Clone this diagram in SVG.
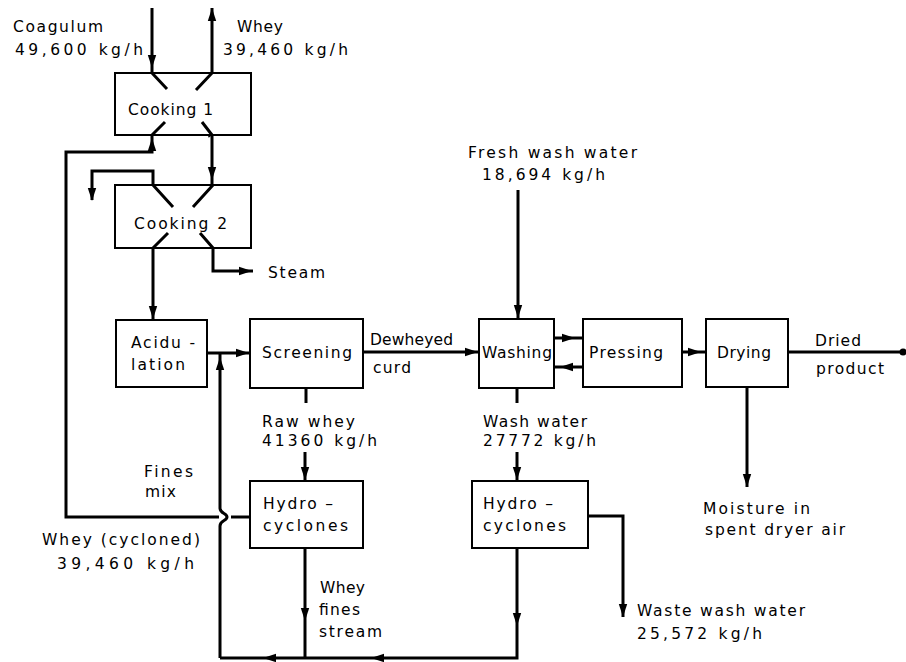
<svg xmlns="http://www.w3.org/2000/svg" xmlns:xlink="http://www.w3.org/1999/xlink" width="906" height="662" viewBox="0 0 906 662">
<style>
.box{fill:#fff;stroke:#000;stroke-width:2}
.ln{fill:none;stroke:#000;stroke-width:3;stroke-linejoin:miter}
.t{font-family:"DejaVu Sans","Liberation Sans",sans-serif;font-size:15.5px;fill:#000}
</style>
<defs>
<path id="ah" d="M0,0 L-13,-4.2 L-13,4.2 Z" fill="#000"/>
</defs>
<rect width="906" height="662" fill="#fff"/>
<g id="connectors">
<path class="ln" d="M152,8 V73 L167,89"/>
<path class="ln" d="M196,90 L212,73 V8"/>
<path class="ln" d="M219,517 H66 V152 H152 V135 L165,122"/>
<path class="ln" d="M250,517 H231"/>
<path class="ln" d="M202,122 L212,135 V185 L193,207"/>
<path class="ln" d="M173,207 L153,185 V171 H92 V200"/>
<path class="ln" d="M168,233 L153,248 V320"/>
<path class="ln" d="M200,233 L213,248 V271 H253"/>
<path class="ln" d="M207,353 H250"/>
<path class="ln" d="M220,658 V526 C220,520 227,521 227,517 C227,513 220,514 220,508 V353"/>
<path class="ln" d="M363,352 H479"/>
<path class="ln" d="M518,190 V319"/>
<path class="ln" d="M554,338 H583"/>
<path class="ln" d="M583,367 H554"/>
<path class="ln" d="M682,352 H706"/>
<path class="ln" d="M788,352 H903"/>
<circle cx="903" cy="352" r="3.5" fill="#000"/>
<path class="ln" d="M747,387 V487"/>
<path class="ln" d="M306,388 V403"/>
<path class="ln" d="M305,452 V481"/>
<path class="ln" d="M517,388 V403"/>
<path class="ln" d="M517,452 V481"/>
<path class="ln" d="M588,516 H623 V617"/>
<path class="ln" d="M517,548 V658 H220"/>
<path class="ln" d="M305,548 V658"/>
<use xlink:href="#ah" transform="translate(152,68) rotate(90)"/>
<use xlink:href="#ah" transform="translate(212,8) rotate(-90)"/>
<use xlink:href="#ah" transform="translate(209,76) rotate(-47)"/>
<use xlink:href="#ah" transform="translate(152,138) rotate(-90)"/>
<use xlink:href="#ah" transform="translate(204,125) rotate(-128)"/>
<use xlink:href="#ah" transform="translate(212,180) rotate(90)"/>
<use xlink:href="#ah" transform="translate(92,201) rotate(90)"/>
<use xlink:href="#ah" transform="translate(153,319) rotate(90)"/>
<use xlink:href="#ah" transform="translate(252,271)"/>
<use xlink:href="#ah" transform="translate(249,353)"/>
<use xlink:href="#ah" transform="translate(220,357) rotate(-90)"/>
<use xlink:href="#ah" transform="translate(478,352)"/>
<use xlink:href="#ah" transform="translate(518,318) rotate(90)"/>
<use xlink:href="#ah" transform="translate(575,338)"/>
<use xlink:href="#ah" transform="translate(560,367) rotate(180)"/>
<use xlink:href="#ah" transform="translate(701,352)"/>
<use xlink:href="#ah" transform="translate(747,487) rotate(90)"/>
<use xlink:href="#ah" transform="translate(305,480) rotate(90)"/>
<use xlink:href="#ah" transform="translate(517,480) rotate(90)"/>
<use xlink:href="#ah" transform="translate(623,617) rotate(90)"/>
<use xlink:href="#ah" transform="translate(517,626) rotate(90)"/>
<use xlink:href="#ah" transform="translate(305,621) rotate(90)"/>
<use xlink:href="#ah" transform="translate(371,658) rotate(180)"/>
<use xlink:href="#ah" transform="translate(263,658) rotate(180)"/>
</g>
<g id="cooking1">
<rect class="box" x="115" y="73" width="136" height="62"/>
<path class="ln" d="M152,73 L167,89 M196,90 L212,73 M165,122 L152,135 M202,122 L212,135"/>
<text class="t" x="128" y="115" textLength="85" lengthAdjust="spacing">Cooking 1</text>
</g>
<g id="cooking2">
<rect class="box" x="115" y="185" width="136" height="63"/>
<path class="ln" d="M173,207 L153,185 M193,207 L213,185 M168,233 L153,248 M200,233 L213,248"/>
<text class="t" x="134" y="229" textLength="93" lengthAdjust="spacing">Cooking 2</text>
</g>
<g id="acidulation">
<rect class="box" x="116" y="320" width="91" height="67"/>
<text class="t" x="131" y="348" textLength="64" lengthAdjust="spacing">Acidu -</text>
<text class="t" x="131" y="370" textLength="54" lengthAdjust="spacing">lation</text>
</g>
<g id="screening">
<rect class="box" x="250" y="319" width="113" height="69"/>
<text class="t" x="262" y="358" textLength="90" lengthAdjust="spacing">Screening</text>
</g>
<g id="washing">
<rect class="box" x="479" y="319" width="75" height="69"/>
<text class="t" x="482" y="358" textLength="70" lengthAdjust="spacing">Washing</text>
</g>
<g id="pressing">
<rect class="box" x="583" y="319" width="99" height="68"/>
<text class="t" x="589" y="358" textLength="74" lengthAdjust="spacing">Pressing</text>
</g>
<g id="drying">
<rect class="box" x="706" y="319" width="82" height="68"/>
<text class="t" x="717" y="358" textLength="54" lengthAdjust="spacing">Drying</text>
</g>
<g id="hydrocyclones1">
<rect class="box" x="250" y="481" width="113" height="67"/>
<text class="t" x="263" y="509" textLength="70" lengthAdjust="spacing">Hydro –</text>
<text class="t" x="263" y="531" textLength="85" lengthAdjust="spacing">cyclones</text>
</g>
<g id="hydrocyclones2">
<rect class="box" x="472" y="481" width="116" height="67"/>
<text class="t" x="483" y="509" textLength="70" lengthAdjust="spacing">Hydro –</text>
<text class="t" x="483" y="531" textLength="83" lengthAdjust="spacing">cyclones</text>
</g>
<g id="labels">
<text class="t" x="13" y="32" textLength="90" lengthAdjust="spacing">Coagulum</text>
<text class="t" x="15" y="55" textLength="128" lengthAdjust="spacing">49,600 kg/h</text>
<text class="t" x="237" y="32" textLength="46" lengthAdjust="spacing">Whey</text>
<text class="t" x="223" y="55" textLength="125" lengthAdjust="spacing">39,460 kg/h</text>
<text class="t" x="268" y="278" textLength="57" lengthAdjust="spacing">Steam</text>
<text class="t" x="370" y="345" textLength="83" lengthAdjust="spacing">Dewheyed</text>
<text class="t" x="373" y="373" textLength="38" lengthAdjust="spacing">curd</text>
<text class="t" x="815" y="346" textLength="46" lengthAdjust="spacing">Dried</text>
<text class="t" x="816" y="374" textLength="68" lengthAdjust="spacing">product</text>
<text class="t" x="468" y="158" textLength="169" lengthAdjust="spacing">Fresh wash water</text>
<text class="t" x="482" y="180" textLength="123" lengthAdjust="spacing">18,694 kg/h</text>
<text class="t" x="262" y="427" textLength="93" lengthAdjust="spacing">Raw whey</text>
<text class="t" x="262" y="446" textLength="115" lengthAdjust="spacing">41360 kg/h</text>
<text class="t" x="483" y="427" textLength="104" lengthAdjust="spacing">Wash water</text>
<text class="t" x="483" y="446" textLength="113" lengthAdjust="spacing">27772 kg/h</text>
<text class="t" x="703" y="514" textLength="107" lengthAdjust="spacing">Moisture in</text>
<text class="t" x="705" y="535" textLength="140" lengthAdjust="spacing">spent dryer air</text>
<text class="t" x="637" y="616" textLength="168" lengthAdjust="spacing">Waste wash water</text>
<text class="t" x="637" y="639" textLength="125" lengthAdjust="spacing">25,572 kg/h</text>
<text class="t" x="144" y="477" textLength="49" lengthAdjust="spacing">Fines</text>
<text class="t" x="145" y="497" textLength="31" lengthAdjust="spacing">mix</text>
<text class="t" x="42" y="545" textLength="158" lengthAdjust="spacing">Whey (cycloned)</text>
<text class="t" x="57" y="569" textLength="137" lengthAdjust="spacing">39,460 kg/h</text>
<text class="t" x="320" y="593" textLength="45" lengthAdjust="spacing">Whey</text>
<text class="t" x="319" y="615" textLength="41" lengthAdjust="spacing">fines</text>
<text class="t" x="319" y="637" textLength="63" lengthAdjust="spacing">stream</text>
</g>
</svg>
